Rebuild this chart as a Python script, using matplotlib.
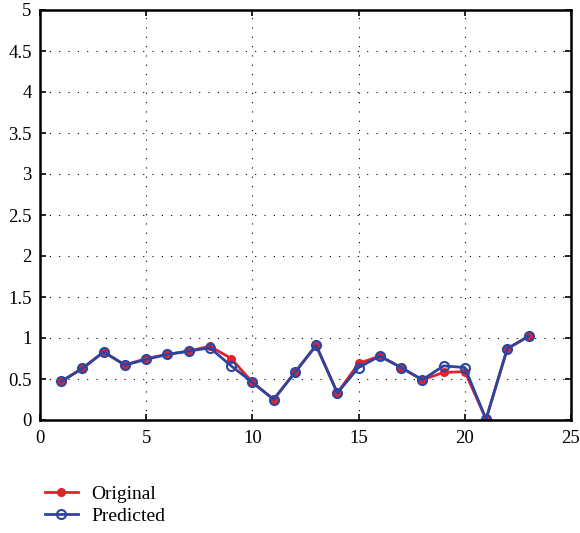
import matplotlib
matplotlib.use("Agg")
import matplotlib.pyplot as plt

x = list(range(1, 24))
original = [0.47, 0.63, 0.83, 0.67, 0.75, 0.80, 0.84, 0.90, 0.75, 0.46, 0.25, 0.58,
            0.91, 0.33, 0.69, 0.78, 0.64, 0.49, 0.58, 0.59, 0.01, 0.87, 1.02]
predicted = [0.47, 0.63, 0.83, 0.67, 0.74, 0.80, 0.84, 0.88, 0.66, 0.46, 0.25, 0.58,
             0.91, 0.33, 0.64, 0.78, 0.64, 0.49, 0.66, 0.64, 0.01, 0.87, 1.02]
xticks = [0, 5, 10, 15, 20, 25]
yticks = [0, 0.5, 1, 1.5, 2, 2.5, 3, 3.5, 4, 4.5, 5]
ytick_labels = ["0", "0.5", "1", "1.5", "2", "2.5", "3", "3.5", "4", "4.5", "5"]

plt.rcParams['font.family'] = ['Liberation Serif', 'DejaVu Serif']

fig = plt.figure(figsize=(5.8, 5.33), dpi=100)
ax = fig.add_axes([40/580, 1-420/533, 531/580, 410/533])

red = '#e8202a'
blue = '#2b45a0'
l1, = ax.plot(x, original, color=red, lw=2, marker='o', ms=5.5, mfc=red, mec=red, label='Original')
l2, = ax.plot(x, predicted, color=blue, lw=2, marker='o', ms=6.5, mfc='none', mec=blue, mew=1.5, label='Predicted')

ax.set_xlim(0, 25)
ax.set_ylim(0, 5)
ax.set_xticks(xticks)
ax.set_yticks(yticks)
ax.set_yticklabels(ytick_labels)
ax.tick_params(direction='in', top=True, right=True, labelsize=13.5, length=4, width=1.2)
ax.tick_params(axis='x', pad=7)
ax.tick_params(axis='y', pad=6)
ax.grid(True, color='black', linestyle=(0, (1, 7.4)), linewidth=0.8)
for s in ax.spines.values():
    s.set_linewidth(1.8)

fig.legend(handles=[l1, l2], loc='upper left', bbox_to_anchor=(27/580, 1-468/533),
           frameon=False, fontsize=14, handlelength=1.7, handletextpad=0.7, labelspacing=0.2)

fig.savefig('out.png', dpi=100)
